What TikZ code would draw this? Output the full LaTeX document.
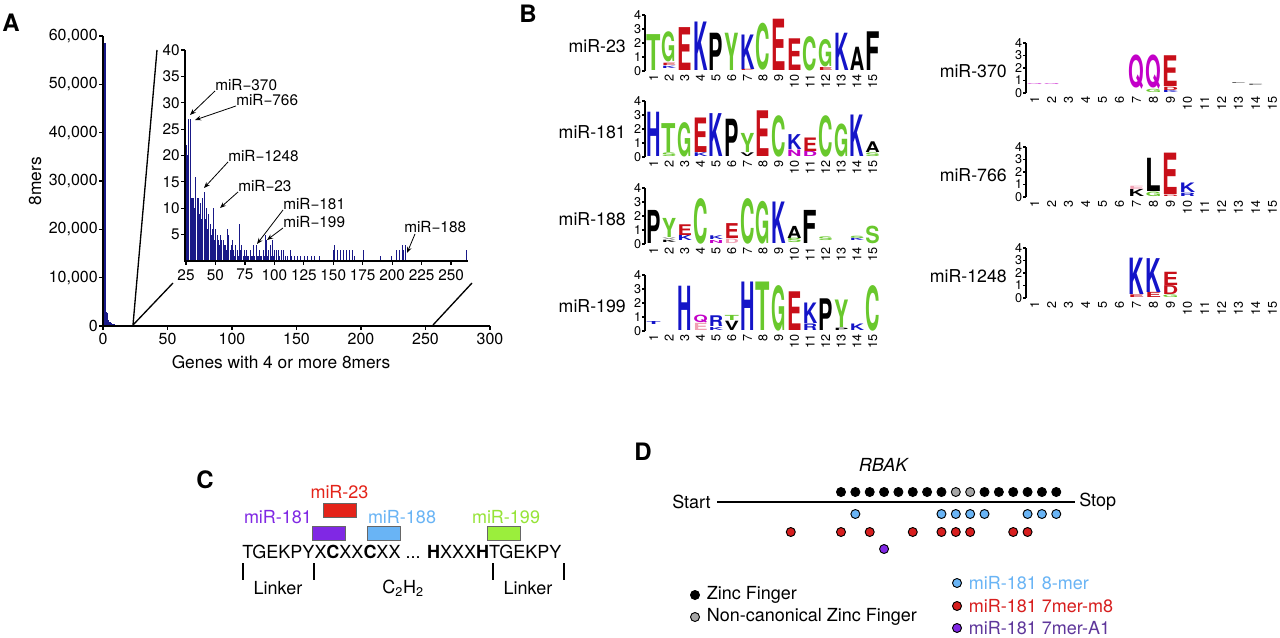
\documentclass[tikz,border=0pt]{standalone}
\usepackage{fontspec}
\setmainfont{TeX Gyre Heros}
\usepackage{graphicx}
\usetikzlibrary{arrows.meta}
\usetikzlibrary{positioning}
\usetikzlibrary{calc}

\definecolor{barblue}{RGB}{25,25,135}
\definecolor{lgreen}{RGB}{105,200,45}
\definecolor{lred}{RGB}{200,15,25}
\definecolor{lblue}{RGB}{20,20,200}
\definecolor{lpurple}{RGB}{195,0,200}
\definecolor{lpink}{RGB}{240,160,180}
\definecolor{cred}{RGB}{228,35,25}
\definecolor{cpurple}{RGB}{128,40,228}
\definecolor{cblue}{RGB}{105,180,245}
\definecolor{cgreen}{RGB}{155,238,60}
\definecolor{tgreen}{RGB}{150,228,55}
\definecolor{dred}{RGB}{215,30,30}
\definecolor{dpurple}{RGB}{95,55,155}

\tikzstyle{panel}=[font=\fontsize{18}{18}\selectfont\bfseries, inner sep=0pt]
\tikzstyle{ticklab}=[font=\fontsize{12}{12}\selectfont, inner sep=0pt]
\tikzstyle{insettick}=[font=\fontsize{11.5}{12}\selectfont, inner sep=0pt]
\tikzstyle{insetlab}=[font=\fontsize{11.5}{12}\selectfont, inner sep=0pt, anchor=west]
\tikzstyle{axtitle}=[font=\fontsize{13}{13}\selectfont, inner sep=0pt]
\tikzstyle{axline}=[draw, line width=0.9pt]
\tikzstyle{zoomline}=[draw, line width=1pt]
\tikzstyle{pointer}=[draw, line width=0.6pt, -{Stealth[length=4.5pt,width=3.5pt]}]
\tikzstyle{logo}=[inner sep=0pt, anchor=south]
\tikzstyle{lognum}=[font=\fontsize{9.5}{10}\selectfont, inner sep=0.5pt]
\tikzstyle{logname}=[font=\fontsize{13.3}{14}\selectfont, inner sep=0pt, anchor=east]
\tikzstyle{seqtext}=[font=\fontsize{13.5}{14}\selectfont, inner sep=0pt]
\tikzstyle{motif}=[rectangle, draw=black!60, line width=0.6pt, minimum width=24.75pt, minimum height=10.5pt, inner sep=0pt]
\tikzstyle{site}=[circle, draw=black, line width=0.7pt, minimum size=6.75pt, inner sep=0pt]
\tikzstyle{legtext}=[font=\fontsize{13.5}{14}\selectfont, inner sep=0pt, right=5pt]

% one stretched letter of a sequence logo (a hair shorter than its slot)
\newcommand{\logoglyph}[2]{\pgfmathsetmacro\gw{\ls*0.75*0.92}\pgfmathsetmacro\gh{(#1*\lu-0.5)*0.75}\resizebox*{\gw pt}{\gh pt}{\bfseries #2}}

\begin{document}
\begin{tikzpicture}[x=0.75pt,y=-0.75pt]
\useasboundingbox (0,0) rectangle (1280,638);
\fill[white] (0,0) rectangle (1280,638);

%%%%%%%%%% A
\node[panel] (labA) at (11,23) {A};

\def\xo{103}\def\yo{326}\def\xs{1.29}\def\ys{4.833}
% main histogram (heights in thousands)
\fill[barblue] (\xo,\yo) rectangle (\xo+2.6,\yo-58.5*\ys);
\foreach \v/\h in {1/2.8,2/2.7,3/1.3,4/0.9,5/0.6,6/0.5,7/0.4,8/0.3,9/0.25,10/0.2,11/0.15,12/0.12,13/0.1,14/0.09,15/0.08,16/0.06,17/0.05,18/0.04,19/0.03,20/0.025}
  \fill[barblue] (\xo+\v*\xs+1.3,\yo) rectangle (\xo+\v*\xs+\xs+1.3,\yo-\h*\ys);
\draw[barblue, line width=0.8pt] (\xo+210*\xs,\yo-0.6) -- (\xo+265*\xs,\yo-0.6);

\draw[axline] (\xo,36) -- (\xo,\yo) -- (490,\yo);
\foreach \t/\tl in {0/0,10/{10,000},20/{20,000},30/{30,000},40/{40,000},50/{50,000},60/{60,000}} {
  \draw[line width=0.9pt] (\xo,\yo-\t*\ys) -- ++(-4,0);
  \node[ticklab, anchor=east] (ya\t) at (\xo-5,\yo-\t*\ys) {\tl};
}
\foreach \v in {0,50,...,300} {
  \draw[line width=0.9pt] (\xo+\v*\xs,\yo) -- ++(0,4);
  \node[ticklab, anchor=north] (xa\v) at (\xo+\v*\xs,\yo+7) {\v};
}
\node[axtitle, rotate=90] (ytitle) at (35,181) {8mers};
\node[axtitle] (xtitle) at (281,362) {Genes with 4 or more 8mers};

% zoom lines
\coordinate (zA) at (133,325);
\coordinate (zB) at (157,50);
\coordinate (zC) at (173,283);
\coordinate (zD) at (433,325);
\coordinate (zE) at (472,283);
\draw[zoomline] (zB) -- (zA) -- (zC);
\draw[zoomline] (zD) -- (zE);

% inset
\def\ix{186}\def\iy{261}\def\is{1.178}\def\iys{5.275}
\foreach \v/\h in {25/22,26/20,27/27,28/27,29/12,30/12,31/12,32/10,33/16,34/12,35/12,36/9,37/11,38/8,39/12,40/13,41/8,42/10,43/6,44/9,45/7,46/5,47/6,48/10,49/4,50/6,51/5,52/4,53/3,54/5,55/4,56/4,57/3,58/3,59/2,60/6,61/5,62/2,63/3,64/4,65/2,66/1,67/3,68/2,69/1,70/7,71/2,72/3,73/1,74/2,75/1,76/2,77/1,78/1,79/2,80/1,81/1,82/3,83/1,84/3,85/1,86/1,87/2,88/1,89/1,90/2,91/1,92/5,93/4,94/1,95/2,96/3,97/1,98/4,99/1,100/2,101/2,103/2,104/1,106/2,107/2,109/1,111/1,113/2,114/1,117/1,119/1,122/1,125/1,128/1,131/1,134/1,138/1,150/2,151/3,153/2,156/2,158/2,161/2,163/2,166/2,168/1,175/2,190/1,199/1,203/2,206/2,208/3,209/2,211/3,263/2}
  \fill[barblue] (\ix+\v*\is-25*\is,\iy) rectangle ++(1.0,-\h*\iys);
\draw[axline] (\ix-1,50) -- (\ix-1,\iy) -- (468,\iy);
\foreach \t in {5,10,...,40} {
  \draw[line width=0.9pt] (\ix-1,\iy-\t*\iys) -- ++(-4,0);
  \node[insettick, anchor=east] (yi\t) at (\ix-6,\iy-\t*\iys) {\t};
}
\foreach \v in {25,50,...,250} {
  \draw[line width=0.9pt] (\ix+\v*\is-25*\is,\iy) -- ++(0,4);
  \node[insettick, anchor=north] (xi\v) at (\ix+\v*\is-25*\is,\iy+8) {\v};
}

% labelled bars
\node[insetlab] (l370) at (215,85) {miR−370};
\node[insetlab] (l766) at (236,100) {miR−766};
\node[insetlab] (l1248) at (228,156) {miR−1248};
\node[insetlab] (l23) at (238,186) {miR−23};
\node[insetlab] (l181) at (283,204) {miR−181};
\node[insetlab] (l199) at (283,222) {miR−199};
\node[insetlab] (l188) at (404,227) {miR−188};
\coordinate (t370) at (190,115);
\coordinate (t766) at (195,120);
\coordinate (t1248) at (204,188);
\coordinate (t23) at (220,208);
\coordinate (t181) at (257,244);
\coordinate (t199) at (267,240);
\coordinate (t188) at (407,253);
\draw[pointer] (l370.south west) -- (t370);
\draw[pointer] (l766.south west) -- (t766);
\draw[pointer] (l1248.south west) -- (t1248);
\draw[pointer] (l23.south west) -- (t23);
\draw[pointer] (l181.south west) -- (t181);
\draw[pointer] (l199.south west) -- (t199);
\draw[pointer] ($(l188.south west)+(11,1)$) -- (t188);

%%%%%%%%%% B
\node[panel] (labB) at (528,14) {B};

% logo frames
\foreach \nm/\ax/\ly/\lu/\ls/\lab in {La/645/71/14/15.65/miR-23, Lb/645/157/14/15.65/miR-181, Lc/645/244/14/15.65/miR-188, Ld/645/331/14/15.65/miR-199,
    Le/1026/93/12.5/17/miR-370, Lf/1026/197/12.5/17/miR-766, Lg/1026/298/12.5/17/miR-1248} {
  \draw[line width=1.3pt] (\ax,\ly-4*\lu) -- (\ax,\ly);
  \foreach \t in {0,...,4} {
    \draw[line width=0.8pt] (\ax,\ly-\t*\lu) -- ++(-3,0);
    \node[lognum, anchor=east] (\nm-y\t) at (\ax-3,\ly-\t*\lu) {\t};
  }
  \foreach \p in {1,...,15}
    \node[lognum, rotate=90, anchor=east] (\nm-x\p) at (\ax+8.5+\ls*\p-\ls,\ly+2.5) {\p};
  \node[logname] (\nm-name) at (\ax-19,\ly-2*\lu+3) {\lab};
}

% miR-23
\def\ax{645}\def\ly{71}\def\lu{14}\def\ls{15.65}
\foreach \p/\b/\h/\c/\l [count=\k] in {1/0/2.6/lgreen/T, 2/0.15/0.2/lblue/K, 2/0.35/0.2/lred/E, 2/0.6/2.2/lgreen/G,
    3/0/3.1/lred/E, 4/0/3.5/lblue/K, 5/0/2.7/black/P, 6/0/2.7/lgreen/Y, 7/0/0.12/lred/E, 7/0.12/2.5/lblue/K,
    8/0/3.4/lgreen/C, 9/0/3.7/lred/E, 10/0/2.3/lred/E, 11/0/2.5/lgreen/C, 12/0/0.25/lred/E, 12/0.25/2.0/lgreen/G,
    13/0/2.7/lblue/K, 14/0/1.7/black/A, 15/0/2.8/black/F}
  \node[logo, text=\c] (La-l\k) at (\ax+8.5+\ls*\p-\ls,\ly-\b*\lu) {\logoglyph{\h}{\l}};

% miR-181
\def\ly{157}
\foreach \p/\b/\h/\c/\l [count=\k] in {1/0/3.2/lblue/H, 2/0/0.3/lgreen/S, 2/0.3/2.1/lgreen/T, 3/0/2.5/lgreen/G,
    4/0/0.3/lblue/K, 4/0.3/2.5/lred/E, 5/0/3.1/lblue/K, 6/0/2.7/black/P, 7/0/0.3/black/V, 7/0.3/1.4/lgreen/Y,
    8/0/3.3/lred/E, 9/0/3.0/lgreen/C, 10/0/0.5/lpurple/N, 10/0.5/1.1/lblue/K, 11/0/0.4/lpurple/D, 11/0.4/1.0/lred/E,
    12/0/3.0/lgreen/C, 13/0/2.4/lgreen/G, 14/0/3.0/lblue/K, 15/0/0.3/lgreen/S, 15/0.3/0.8/black/A}
  \node[logo, text=\c] (Lb-l\k) at (\ax+8.5+\ls*\p-\ls,\ly-\b*\lu) {\logoglyph{\h}{\l}};

% miR-188
\def\ly{244}
\foreach \p/\b/\h/\c/\l [count=\k] in {1/0/2.4/black/P, 2/0.1/0.2/black/K, 2/0.3/0.15/gray/V, 2/0.45/1.4/lgreen/Y,
    3/0.2/0.4/lblue/K, 3/0.6/0.8/lred/E, 4/0/3.3/lgreen/C, 5/0.05/0.25/lpurple/N, 5/0.3/0.3/lblue/K,
    6/0.05/0.35/lpink/D, 6/0.4/1.1/lred/E, 7/0/3.3/lgreen/C, 8/0/3.1/lgreen/G, 9/0/3.0/lblue/K,
    10/0.05/0.35/lgreen/S, 10/0.4/0.9/black/A, 11/0/2.4/black/F, 12/0.2/0.3/lgreen/S,
    14/0.2/0.2/lblue/K, 14/0.4/0.2/lgreen/S, 15/0/1.3/lgreen/S}
  \node[logo, text=\c] (Lc-l\k) at (\ax+8.5+\ls*\p-\ls,\ly-\b*\lu) {\logoglyph{\h}{\l}};

% miR-199
\def\ly{331}
\foreach \p/\b/\h/\c/\l [count=\k] in {1/0.45/0.25/lblue/T, 3/0/3.2/lblue/H, 4/0/0.55/lpink/E, 4/0.55/0.6/lpurple/Q,
    5/0.05/0.25/lblue/K, 5/0.3/0.8/lblue/R, 6/0/0.7/black/V, 6/0.7/0.4/lgreen/T, 7/0/3.5/lblue/H, 8/0/3.5/lgreen/T,
    9/0/3.3/lgreen/G, 10/0/2.8/lred/E, 11/0/0.5/lblue/R, 11/0.5/1.5/lblue/K, 12/0/2.3/black/P,
    13/0/0.2/black/P, 13/0.2/2.0/lgreen/Y, 14/0/0.5/lblue/K, 15/0/3.3/lgreen/C}
  \node[logo, text=\c] (Ld-l\k) at (\ax+8.5+\ls*\p-\ls,\ly-\b*\lu) {\logoglyph{\h}{\l}};

% miR-370
\def\ax{1026}\def\ly{93}\def\lu{12.5}\def\ls{17}
\foreach \p/\b/\h/\c/\l [count=\k] in {1/0.6/0.1/lpurple/Q, 2/0.6/0.1/lpurple/Q, 7/0.3/2.8/lpurple/Q,
    8/0/0.3/lgreen/G, 8/0.3/2.8/lpurple/Q, 9/0/0.2/lblue/K, 9/0.2/0.3/lred/D, 9/0.5/2.5/lred/E,
    13/0.7/0.12/black!60/E, 14/0.55/0.15/black!60/E}
  \node[logo, text=\c] (Le-l\k) at (\ax+8.5+\ls*\p-\ls,\ly-\b*\lu) {\logoglyph{\h}{\l}};

% miR-766
\def\ly{197}
\foreach \p/\b/\h/\c/\l [count=\k] in {7/0/0.6/black/K, 7/0.6/0.3/lpink/E, 8/0/0.4/lgreen/G, 8/0.4/2.7/black/L,
    9/0/0.15/lred/D, 9/0.15/3.35/lred/E, 10/0/0.3/lblue/R, 10/0.3/0.8/lblue/K}
  \node[logo, text=\c] (Lf-l\k) at (\ax+8.5+\ls*\p-\ls,\ly-\b*\lu) {\logoglyph{\h}{\l}};

% miR-1248
\def\ly{298}
\foreach \p/\b/\h/\c/\l [count=\k] in {7/0/0.25/lred/E, 7/0.25/2.95/lblue/K, 8/0/0.45/lred/E, 8/0.45/2.75/lblue/K,
    9/0/0.25/lgreen/G, 9/0.25/0.75/lred/D, 9/1.0/1.1/lred/E}
  \node[logo, text=\c] (Lg-l\k) at (\ax+8.5+\ls*\p-\ls,\ly-\b*\lu) {\logoglyph{\h}{\l}};

%%%%%%%%%% C
\node[panel] (labC) at (205,480) {C};
\node[motif, fill=cred] (m23) at (339.5,510) {};
\node[motif, fill=cpurple] (m181) at (329,533) {};
\node[motif, fill=cblue] (m188) at (383.5,533) {};
\node[motif, fill=cgreen] (m199) at (503.5,533) {};
\node[seqtext, text=cred, above=3pt of m23] (n23) {miR-23};
\node[seqtext, text=cpurple] (n181) at (278,517) {miR-181};
\node[seqtext, text=cblue] (n188) at (402,517) {miR-188};
\node[seqtext, text=tgreen] (n199) at (506,517) {miR-199};
\node[seqtext, anchor=west] (seq) at (242,552) {TGEKPYX\textbf{C}XX\textbf{C}XX ... \textbf{H}XXX\textbf{H}TGEKPY};
\foreach \x in {243,314,493,564}
  \draw[line width=0.8pt] (\x,563) -- (\x,580);
\node[seqtext] (link1) at (278,588) {Linker};
\node[seqtext] (c2h2) at (403,588) {C\textsubscript{2}H\textsubscript{2}};
\node[seqtext] (link2) at (528,588) {Linker};

%%%%%%%%%% D
\node[panel] (labD) at (643,452) {D};
\node[seqtext, font=\fontsize{13.5}{14}\selectfont\itshape] (rbak) at (883,465) {RBAK};
\node[seqtext, anchor=east] (start) at (711,502) {Start};
\node[seqtext, anchor=west] (stop) at (1079,502) {Stop};
\draw[line width=1pt] ([xshift=4.5pt]start.east) -- ([xshift=-3pt]stop.west);

\def\dx{841}\def\ds{14.35}
\foreach \i in {1,...,8,11,12,...,16}
  \node[site, fill=black] (zf\i) at (\dx+\ds*\i-\ds,492) {};
\foreach \i in {9,10}
  \node[site, fill=black!35] (zf\i) at (\dx+\ds*\i-\ds,492) {};
\foreach \i in {2,8,9,10,11,14,15,16}
  \node[site, fill=cblue] (b\i) at (\dx+\ds*\i-\ds,514) {};
\foreach \i [count=\k] in {-2.5,1,3,6,8,9,10,13,14}
  \node[site, fill=dred] (r\k) at (\dx+\ds*\i-\ds,532) {};
\node[site, fill=cpurple] (p1) at (\dx+\ds*3,549) {};

% legend
\node[site, fill=black] (lg1) at (695,595) {};
\node[legtext, right=5pt of lg1] (lt1) {Zinc Finger};
\node[site, fill=black!35] (lg2) at (695,617) {};
\node[legtext, right=5pt of lg2] (lt2) {Non-canonical Zinc Finger};
\node[site, fill=cblue] (lg3) at (957,583) {};
\node[legtext, text=cblue, right=5pt of lg3] (lt3) {miR-181 8-mer};
\node[site, fill=dred] (lg4) at (957,606) {};
\node[legtext, text=dred, right=5pt of lg4] (lt4) {miR-181 7mer-m8};
\node[site, fill=cpurple] (lg5) at (957,628) {};
\node[legtext, text=dpurple, right=5pt of lg5] (lt5) {miR-181 7mer-A1};

\end{tikzpicture}
\end{document}
